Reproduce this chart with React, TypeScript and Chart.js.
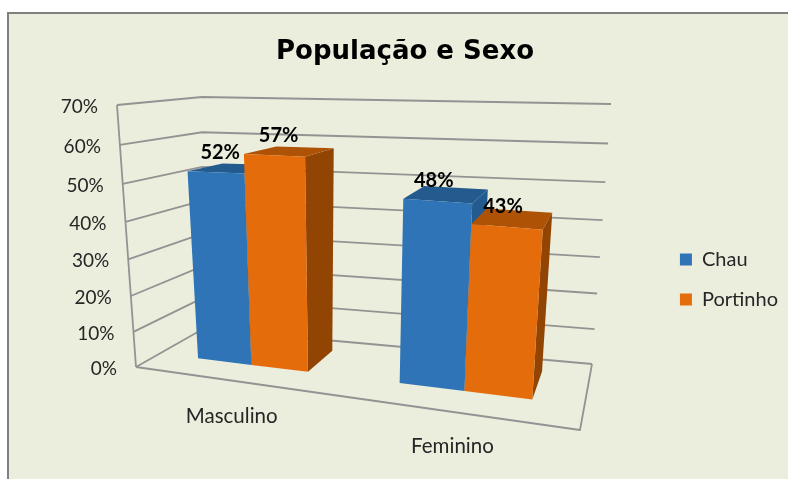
import React, { useEffect, useRef } from "react";
import { Chart, registerables } from "chart.js";

Chart.register(...registerables);

const categories = ["Masculino", "Feminino"];
const chauValues = [52, 48];
const portinhoValues = [57, 43];
const seriesNames = ["Chau", "Portinho"];
const titleText = "População e Sexo";

const FRONT = "#2f74b6";
const ORANGE = "#e56c0a";
const faces = [
  { front: FRONT, top: "#245b8f", side: "#245b8f" },
  { front: ORANGE, top: "#ae5306", side: "#924503" },
];
const BG = "#ebeedd";
const GRID = "#939393";
const FONT = "Lato";

type Pt = [number, number];

function homography(a: Pt, u: Pt, d: Pt, w: Pt) {
  const sx = a[0] - u[0] + d[0] - w[0];
  const sy = a[1] - u[1] + d[1] - w[1];
  const dx1 = u[0] - d[0], dx2 = w[0] - d[0], dy1 = u[1] - d[1], dy2 = w[1] - d[1];
  const den = dx1 * dy2 - dx2 * dy1;
  const g = (sx * dy2 - dx2 * sy) / den;
  const h = (dx1 * sy - sx * dy1) / den;
  const ax = u[0] * (1 + g) - a[0], ay = u[1] * (1 + g) - a[1];
  const cx = w[0] * (1 + h) - a[0], cy = w[1] * (1 + h) - a[1];
  return (s: number, t: number): Pt => {
    const q = 1 + g * s + h * t;
    return [(a[0] + ax * s + cx * t) / q, (a[1] + ay * s + cy * t) / q];
  };
}

// The box of the 3D view: the floor, and how far up the 100% height reaches.
const floorAt = homography([136, 367], [580, 430], [592, 364], [203, 329]);
const LIFT = -0.07;
const mix = (a: number, b: number, t: number) => a + (b - a) * t;
function project(u: number, v: number, w: number): Pt {
  const f = floorAt(u, w);
  const ue = Math.pow(u, 1.3);
  const dx = mix(mix(-19, 22, ue), mix(-1, 19, ue), w * w);
  const dy = mix(mix(-262, -300, u), mix(-232, -260, u), w);
  const s = (v * (1 + LIFT)) / (1 + LIFT * v);
  return [f[0] + dx * s, f[1] + dy * s];
}
const barU = (t: number) => t + 0.054 - 0.21 * (t - 0.5) * (t - 0.5);
const W_FRONT = 0.32;
const W_BACK = 0.78;
const labelShift = [5, -3];
const categoryShift = [16, 22];

function poly(ctx: CanvasRenderingContext2D, pts: Pt[], fill: string) {
  ctx.beginPath();
  pts.forEach((p, i) => (i ? ctx.lineTo(p[0], p[1]) : ctx.moveTo(p[0], p[1])));
  ctx.closePath();
  ctx.fillStyle = fill;
  ctx.fill();
}
function line(ctx: CanvasRenderingContext2D, pts: Pt[]) {
  ctx.beginPath();
  pts.forEach((p, i) => (i ? ctx.lineTo(p[0], p[1]) : ctx.moveTo(p[0], p[1])));
  ctx.stroke();
}

const view3d = {
  id: "view3d",
  beforeDraw(chart: any) {
    const { ctx, width, height } = chart;
    ctx.save();
    ctx.fillStyle = "#ffffff";
    ctx.fillRect(0, 0, width, height);
    ctx.fillStyle = "#808080";
    ctx.fillRect(7, 12, width - 7, height - 12);
    ctx.fillStyle = BG;
    ctx.fillRect(9, 14, width - 9, height - 14);
    ctx.restore();
  },
  beforeDatasetsDraw(chart: any) {
    const { ctx, scales } = chart;
    const xs = scales.x, ys = scales.y;
    const frac = (py: number) => (ys.bottom - py) / ys.height;
    ctx.save();
    // walls and gridlines
    ctx.strokeStyle = GRID;
    ctx.lineWidth = 1.8;
    ctx.lineJoin = "round";
    ctx.fillStyle = "#262626";
    ctx.font = `19px ${FONT}`;
    ctx.textAlign = "right";
    ctx.textBaseline = "middle";
    ys.ticks.forEach((tick: any) => {
      const v = frac(ys.getPixelForValue(tick.value));
      line(ctx, [project(0, v, 0), project(0, v, 1), project(1, v, 1)]);
      const p = project(0, v, 0);
      ctx.fillText(`${tick.value}%`, p[0] - 19, p[1] + 2);
    });
    line(ctx, [project(0, 0, 0), project(0, 1, 0)]);
    line(ctx, [project(0, 0, 0), project(1, 0, 0), project(1, 0, 1)]);
    // category labels
    ctx.textAlign = "center";
    ctx.font = `20.5px ${FONT}`;
    categories.forEach((c, i) => {
      const t = (xs.getPixelForValue(i) - xs.left) / xs.width;
      const p = project(t, 0, 0);
      ctx.fillText(c, p[0] + categoryShift[i], p[1] + 38);
    });
    // bars
    const labels: [string, number, number][] = [];
    categories.forEach((_, i) => {
      chart.data.datasets.forEach((ds: any, d: number) => {
        const bar = chart.getDatasetMeta(d).data[i];
        const u0 = barU((bar.x - bar.width / 2 - xs.left) / xs.width);
        const u1 = barU((bar.x + bar.width / 2 - xs.left) / xs.width);
        const v = frac(bar.y);
        const col = faces[d];
        poly(ctx, [project(u1, 0, W_FRONT), project(u1, 0, W_BACK), project(u1, v, W_BACK), project(u1, v, W_FRONT)], col.side);
        poly(ctx, [project(u0, v, W_FRONT), project(u1, v, W_FRONT), project(u1, v, W_BACK), project(u0, v, W_BACK)], col.top);
        poly(ctx, [project(u0, 0, W_FRONT), project(u1, 0, W_FRONT), project(u1, v, W_FRONT), project(u0, v, W_FRONT)], col.front);
        const top = project((u0 + u1) / 2, v, W_FRONT);
        labels.push([`${ds.data[i]}%`, top[0] + labelShift[i], top[1] - 20]);
      });
    });
    ctx.fillStyle = "#000000";
    ctx.font = `bold 20px ${FONT}`;
    labels.forEach(([s, x, y]) => ctx.fillText(s, x, y));
    ctx.restore();
    return false;
  },
};

export default function App() {
  const ref = useRef<HTMLCanvasElement>(null);
  useEffect(() => {
    const chart = new Chart(ref.current as HTMLCanvasElement, {
      type: "bar",
      data: {
        labels: categories,
        datasets: [
          { label: seriesNames[0], data: chauValues, backgroundColor: FRONT, borderWidth: 0 },
          { label: seriesNames[1], data: portinhoValues, backgroundColor: ORANGE, borderWidth: 0 },
        ],
      },
      plugins: [view3d],
      options: {
        responsive: false,
        animation: false,
        layout: { padding: { left: 22, right: 0, top: 0, bottom: 0 } },
        datasets: { bar: { categoryPercentage: 0.57, barPercentage: 1 } },
        scales: {
          x: { display: false },
          y: { display: false, min: 0, max: 70, ticks: { stepSize: 10 } },
        },
        plugins: {
          tooltip: { enabled: false },
          title: {
            display: true,
            text: titleText,
            color: "#000000",
            font: { family: "DejaVu Sans", size: 26, weight: "bold" },
            padding: { top: 37, bottom: 12 },
          },
          legend: {
            position: "right",
            fullSize: false,
            labels: {
              boxWidth: 12,
              boxHeight: 12,
              padding: 20,
              color: "#262626",
              font: { family: FONT, size: 20 },
            },
          },
        },
      },
    } as any);
    return () => chart.destroy();
  }, []);
  return (
    <div style={{ position: "absolute", left: 0, top: 0, width: 788, height: 479 }}>
      <canvas ref={ref} width={788} height={479} style={{ display: "block" }} />
    </div>
  );
}
